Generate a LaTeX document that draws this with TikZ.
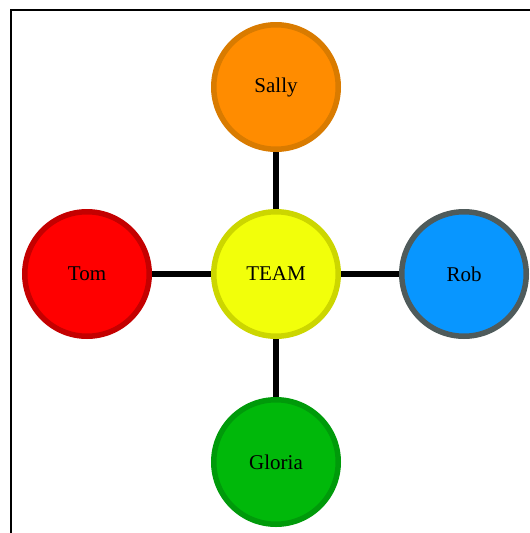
\documentclass[tikz,border=0pt]{standalone}
\usepackage{fontspec}
\setmainfont{Liberation Serif}
\usepackage{xcolor}
\usepackage{tikz}

\definecolor{sallyfill}{HTML}{FF8C00}
\definecolor{sallyline}{HTML}{D97B00}
\definecolor{tomfill}{HTML}{FF0000}
\definecolor{tomline}{HTML}{C40000}
\definecolor{teamfill}{HTML}{F2FF0A}
\definecolor{teamline}{HTML}{CCD600}
\definecolor{robfill}{HTML}{0896FF}
\definecolor{robline}{HTML}{4F5B5B}
\definecolor{gloriafill}{HTML}{00B80A}
\definecolor{glorialine}{HTML}{009A0A}

\tikzset{
  member/.style={circle, line width=5.5pt, minimum size=124.5pt, inner sep=0pt,
                 font=\fontsize{21}{24}\selectfont},
  link/.style={line width=6.5pt, black}
}

\begin{document}
\begin{tikzpicture}[x=1pt, y=-1pt]
  %% Page area
  \useasboundingbox (0,0) rectangle (530,533);

  %% Frame (top and left edges only show)
  \draw[line width=2pt, black] (11,533) -- (11,10) -- (530,10);

  %% Team members
  \node[member, draw=teamline, fill=teamfill]     (team)   at (276,274) {TEAM};
  \node[member, draw=sallyline, fill=sallyfill]   (sally)  at (276,87)  {Sally};
  \node[member, draw=tomline, fill=tomfill]       (tom)    at (87,274)  {Tom};
  \node[member, draw=robline, fill=robfill]       (rob)    at (464,274) {Rob};
  \node[member, draw=glorialine, fill=gloriafill] (gloria) at (276,462) {Gloria};

  %% Links to the centre
  \draw[link] (team) -- (sally);
  \draw[link] (team) -- (tom);
  \draw[link] (team) -- (rob);
  \draw[link] (team) -- (gloria);
\end{tikzpicture}
\end{document}
